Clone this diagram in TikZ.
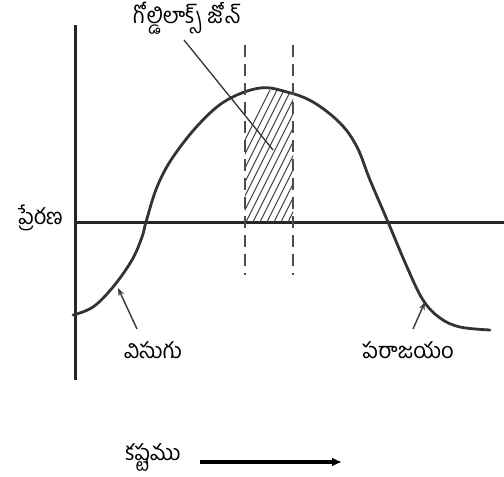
\documentclass[tikz,border=0pt]{standalone}
\usepackage{fontspec}
\newfontfamily\telugu[Script=Telugu]{Hind Guntur}
\usetikzlibrary{arrows.meta}

\newcommand\effortcurve{(73,315) (93,307) (113,287) (132,260) (142,237) (146,222) (157,187) (173,157) (200,123) (227,100) (260,88) (287,92) (313,102) (340,123) (357,147) (370,180) (388,222) (407,267) (423,300) (440,318) (460,327) (490,330)}

\begin{document}
\begin{tikzpicture}[
  x=1pt, y=-1pt,
  font=\telugu\fontsize{22}{26}\selectfont,
  axis/.style={line width=3pt, black!85},
  curve/.style={line width=2.8pt, black!80, line cap=round},
  zone/.style={line width=1.8pt, black!70, dash pattern=on 12pt off 7pt},
  hatch/.style={line width=1pt, black!75},
  pointer/.style={line width=1.5pt, black!75, -{Stealth[length=8pt, width=6pt]}},
  label/.style={inner sep=1pt},
]
  \useasboundingbox (0,0) rectangle (504,477);

  % axes
  \coordinate (origin) at (75,222);
  \coordinate (ytop) at (75,25);
  \coordinate (ybot) at (75,380);
  \coordinate (xend) at (504,222);
  \draw[axis] (ytop) -- (ybot);
  \draw[axis] (origin) -- (xend);

  % hatched goldilocks zone
  \begin{scope}
    \clip (245,222) rectangle (293,80);
    \clip plot[smooth, tension=0.6] coordinates {\effortcurve} -- (490,222) -- (73,222) -- cycle;
    \foreach \s in {0,7,...,200}
      \draw[hatch] (200+\s,230) -- +(70,-140);
  \end{scope}

  % curve
  \draw[curve] plot[smooth, tension=0.6] coordinates {\effortcurve};

  % zone limits
  \draw[zone] (245,45) -- (245,275);
  \draw[zone] (293,45) -- (293,275);

  % labels
  \node[label] (zone) at (187,18) {గోల్డిలాక్స్ జోన్};
  \coordinate (zonetip) at (273,150);
  \draw[line width=1.3pt, black!80] (184,40) -- (zonetip);

  \node[label, anchor=east] (motive) at (64,218) {ప్రేరణ};

  \node[label] (bored) at (153,350) {విసుగు};
  \coordinate (boredtip) at (118,288);
  \draw[pointer] (137,329) -- (boredtip);

  \node[label] (defeat) at (408,350) {పరాజయం};
  \coordinate (defeattip) at (425,302);
  \draw[pointer] (413,329) -- (defeattip);

  \node[label] (effort) at (153,457) {కష్టము};
  \coordinate (effortend) at (342,462);
  \draw[line width=3.5pt, -{Latex[length=10pt, width=9pt]}] (200,462) -- (effortend);
\end{tikzpicture}
\end{document}
